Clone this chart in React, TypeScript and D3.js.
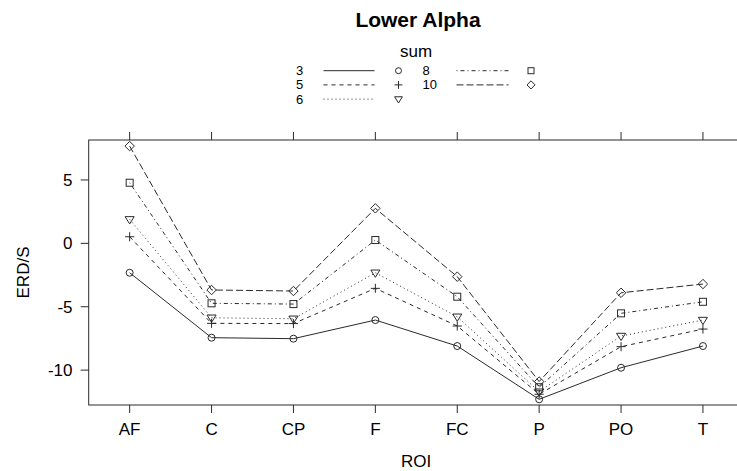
import React from "react";
import * as d3 from "d3";

const categories = ["AF", "C", "CP", "F", "FC", "P", "PO", "T"];
const seriesNames = ["3", "5", "6", "8", "10"];
const s3 = [-2.32, -7.44, -7.52, -6.05, -8.1, -12.3, -9.81, -8.1];
const s5 = [0.52, -6.31, -6.33, -3.55, -6.52, -11.9, -8.15, -6.76];
const s6 = [1.89, -5.87, -5.95, -2.32, -5.79, -11.7, -7.31, -6.05];
const s8 = [4.78, -4.73, -4.79, 0.26, -4.21, -11.35, -5.52, -4.61];
const s10 = [7.67, -3.68, -3.76, 2.76, -2.63, -10.9, -3.9, -3.21];
const seriesValues = [s3, s5, s6, s8, s10];
const yTicks = [-10, -5, 0, 5];
const dashes = ["", "4,4", "1,3", "1,3,4,3", "7,3"];
const shapes = ["circle", "plus", "triangle", "square", "diamond"];

const W = 737;
const H = 471;
const left = 88.7;
const top = 140;
const bottom = 405;
const ink = "#2a2a2a";
const font = "'Liberation Sans', Arial, Helvetica, sans-serif";

function Symbol({ shape, x, y, s }: { shape: string; x: number; y: number; s: number }) {
  const common = { fill: "none", stroke: ink, strokeWidth: 1 };
  if (shape === "circle") return <circle cx={x} cy={y} r={s} {...common} />;
  if (shape === "plus")
    return (
      <path d={`M${x - s * 1.3},${y}H${x + s * 1.3}M${x},${y - s * 1.3}V${y + s * 1.3}`} {...common} />
    );
  if (shape === "triangle") {
    const h = s * 1.3;
    return (
      <path d={`M${x - h},${y - h * 0.6}L${x + h},${y - h * 0.6}L${x},${y + h * 1.0}Z`} {...common} />
    );
  }
  if (shape === "square")
    return <rect x={x - s} y={y - s} width={2 * s} height={2 * s} {...common} />;
  const d = s * 1.35;
  return <path d={`M${x},${y - d}L${x + d},${y}L${x},${y + d}L${x - d},${y}Z`} {...common} />;
}

export default function App() {
  const x = d3.scalePoint<string>().domain(categories).range([left, left + 8 * 81.9]).padding(0.5);
  const y = d3.scaleLinear().domain([-12.75, 8.15]).range([bottom, top]);
  const right = left + 8 * 81.9;
  const line = d3
    .line<number>()
    .x((_, i) => x(categories[i]) as number)
    .y((v) => y(v));

  const legendRows = [70.7, 84.9, 99.1];
  const legendCols = [
    { tx: 296, lx1: 323.5, lx2: 374.5, sx: 398.5 },
    { tx: 422.5, lx1: 456.5, lx2: 508.5, sx: 531 },
  ];

  return (
    <svg
      width={W}
      height={H}
      style={{ position: "absolute", left: 0, top: 0, background: "#fff" }}
      fontFamily={font}
    >
      <rect width={W} height={H} fill="#fff" />
      <text x={418} y={27} textAnchor="middle" fontWeight="bold" fontSize={21} fill="#000">
        Lower Alpha
      </text>
      <text x={416} y={57} textAnchor="middle" fontSize={17} fill="#000">
        sum
      </text>
      {seriesNames.map((n, i) => {
        const col = legendCols[i < 3 ? 0 : 1];
        const ry = legendRows[i < 3 ? i : i - 3];
        return (
          <g key={n}>
            <text x={col.tx} y={ry} dy="0.35em" fontSize={13} fill="#000">
              {n}
            </text>
            <line x1={col.lx1} x2={col.lx2} y1={ry} y2={ry} stroke={ink} strokeDasharray={dashes[i]} />
            <Symbol shape={shapes[i]} x={col.sx} y={ry} s={3} />
          </g>
        );
      })}

      {/* panel box */}
      <rect x={left} y={top} width={right - left} height={bottom - top} fill="none" stroke={ink} />
      {categories.map((c) => (
        <g key={c}>
          <line x1={x(c)} x2={x(c)} y1={bottom} y2={bottom + 8} stroke={ink} />
          <line x1={x(c)} x2={x(c)} y1={top} y2={top - 8} stroke={ink} />
          <text x={x(c)} y={435} textAnchor="middle" fontSize={17} fill="#000">
            {c}
          </text>
        </g>
      ))}
      {yTicks.map((t) => (
        <g key={t}>
          <line x1={left - 8} x2={left} y1={y(t)} y2={y(t)} stroke={ink} />
          <text x={72.5} y={y(t)} dy="0.35em" textAnchor="end" fontSize={17} fill="#000">
            {t}
          </text>
        </g>
      ))}
      <text x={416} y={467} textAnchor="middle" fontSize={17} fill="#000">
        ROI
      </text>
      <text
        transform={`translate(29,${(top + bottom) / 2}) rotate(-90)`}
        textAnchor="middle"
        fontSize={17}
        fill="#000"
      >
        ERD/S
      </text>

      {seriesValues.map((vals, i) => (
        <g key={seriesNames[i]}>
          <path d={line(vals) || ""} fill="none" stroke={ink} strokeDasharray={dashes[i]} />
          {vals.map((v, j) => (
            <Symbol key={j} shape={shapes[i]} x={x(categories[j]) as number} y={y(v)} s={3.5} />
          ))}
        </g>
      ))}
    </svg>
  );
}
